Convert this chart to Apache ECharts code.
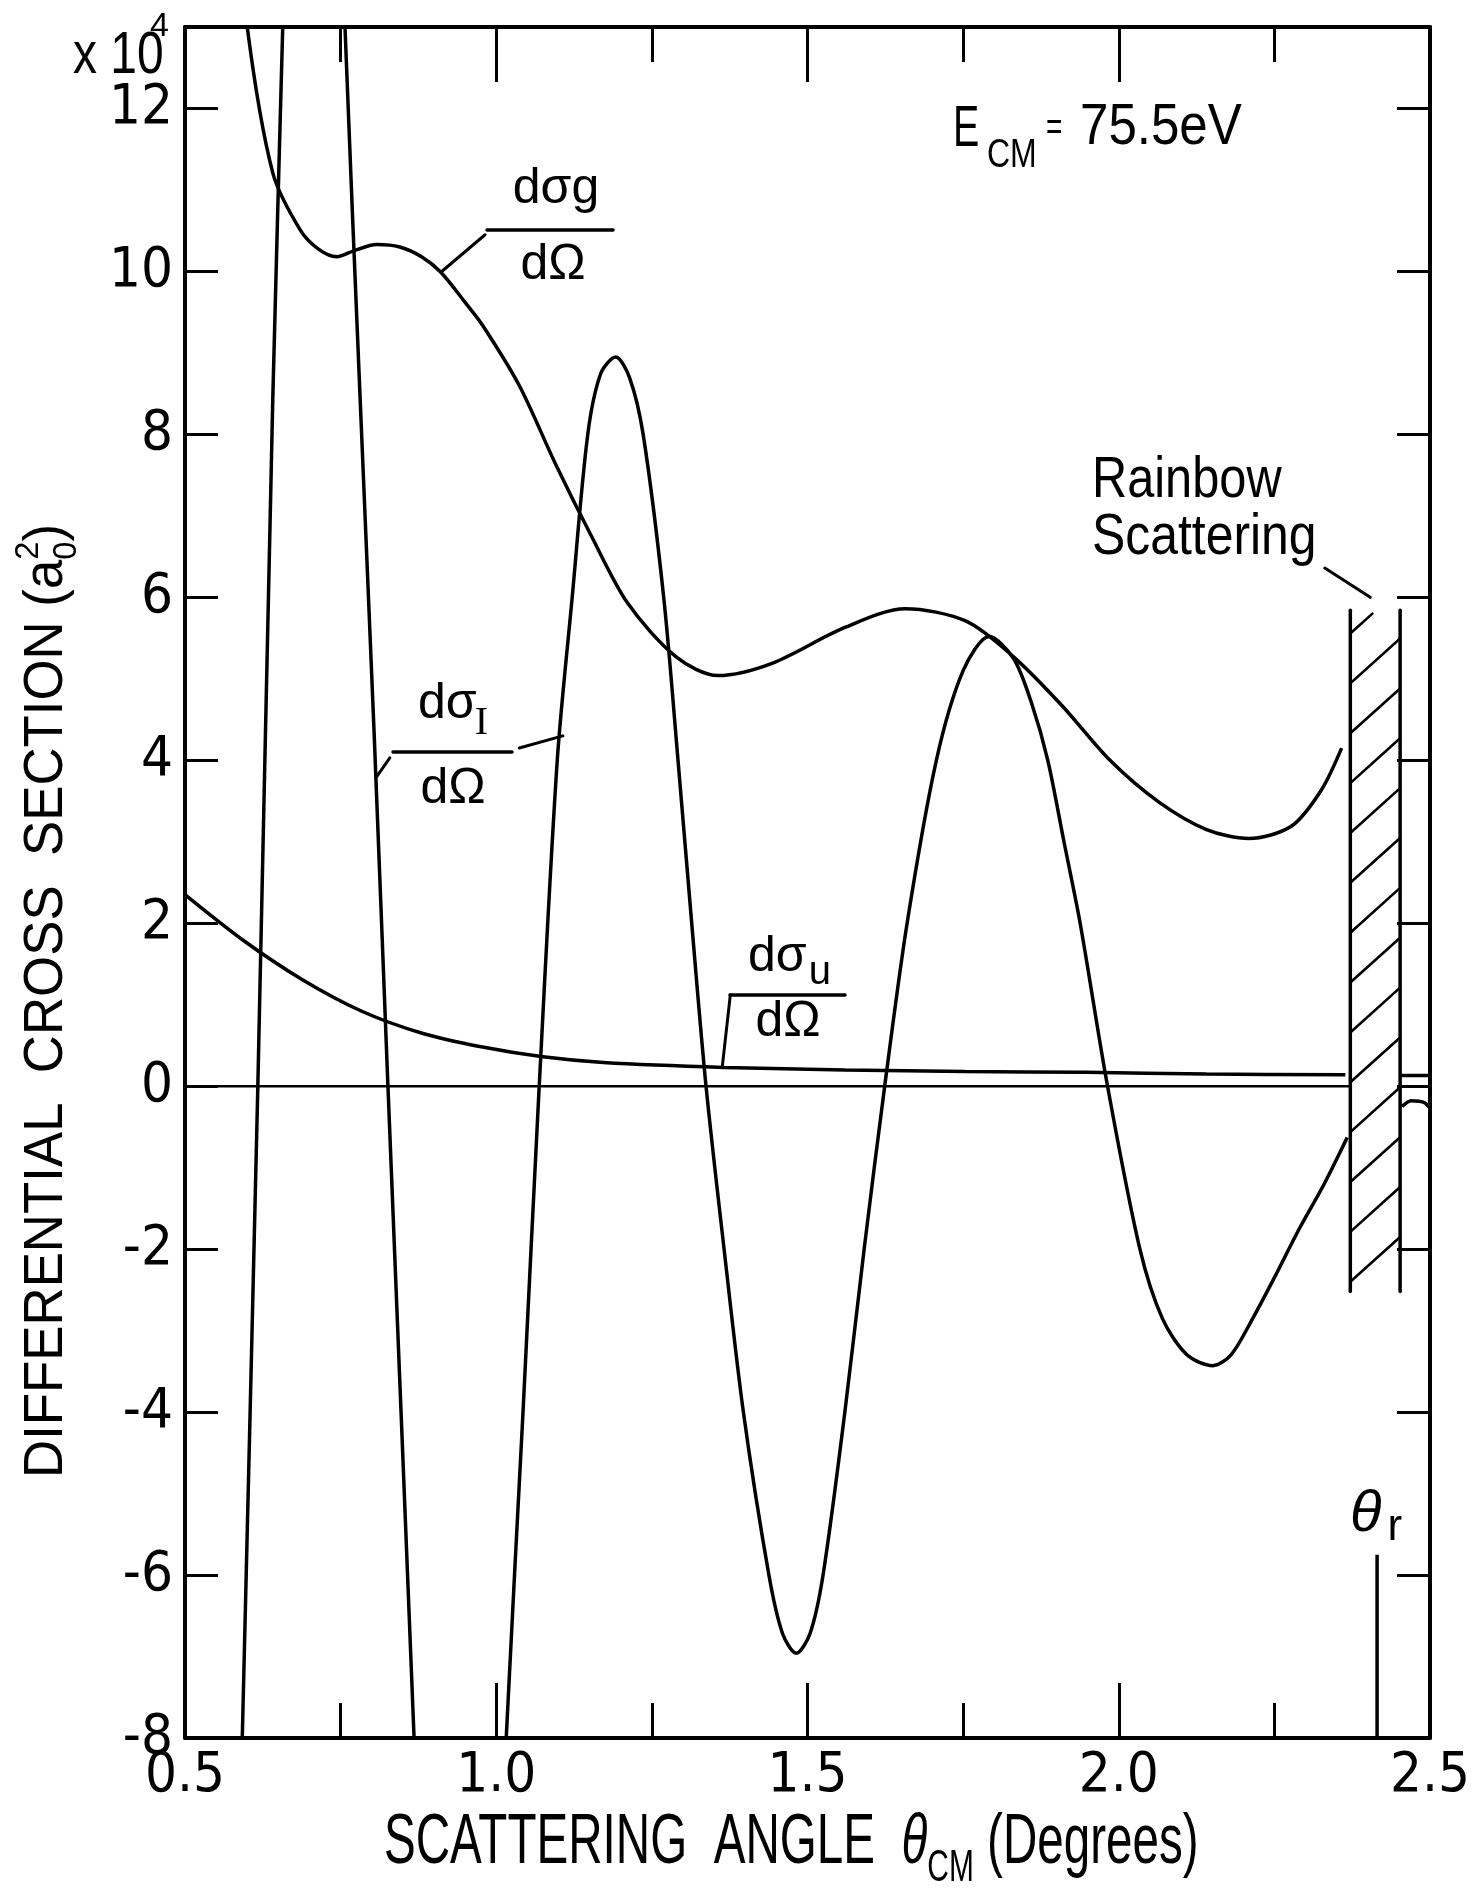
<!DOCTYPE html>
<html>
<head>
<meta charset="utf-8">
<script src="https://cdn.jsdelivr.net/npm/echarts@6/dist/echarts.min.js"></script>
<style>
  html, body { margin: 0; padding: 0; background: #fff; }
  #chart { width: 1483px; height: 1892px; }
</style>
</head>
<body>
<div id="chart"></div>
<script>
// Differential cross sections vs. CM scattering angle, E_CM = 75.5 eV.
// Angles in degrees, cross sections in units of 1e4 a0^2.

const xTickLabels = ['0.5', '1.0', '1.5', '2.0', '2.5'];
const yTickLabels = ['-8', '-6', '-4', '-2', '0', '2', '4', '6', '8', '10', '12'];

// d(sigma_g)/dOmega
const sigmaG = [
  [0.597, 13.6], [0.600, 13.0], [0.641, 11.21], [0.685, 10.51], [0.715, 10.27],
  [0.744, 10.18], [0.770, 10.25], [0.808, 10.33], [0.845, 10.30], [0.880, 10.18],
  [0.911, 9.99], [0.950, 9.62], [0.978, 9.34], [1.037, 8.60], [1.095, 7.64],
  [1.153, 6.75], [1.211, 5.93], [1.289, 5.27], [1.356, 5.04], [1.443, 5.19],
  [1.560, 5.63], [1.657, 5.86], [1.754, 5.71], [1.831, 5.27], [1.909, 4.67],
  [1.986, 4.00], [2.064, 3.49], [2.141, 3.15], [2.209, 3.04], [2.277, 3.19],
  [2.325, 3.63], [2.358, 4.15]
];

// d(sigma_I)/dOmega (interference term); null marks where the curve leaves the frame
const sigmaI = [
  [0.589, -9.0], [0.592, -8.0], [0.617, 0.0], [0.641, 8.43], [0.657, 13.0], [0.659, 13.8],
  null,
  [0.755, 13.8], [0.757, 13.0], [0.781, 8.5], [0.804, 4.3], [0.826, 0.0],
  [0.868, -8.0], [0.870, -8.6],
  null,
  [1.013, -8.8], [1.016, -8.0], [1.043, -4.0], [1.069, 0.0], [1.098, 4.0], [1.122, 6.0],
  [1.147, 8.0], [1.168, 8.75], [1.192, 8.95], [1.214, 8.70], [1.236, 8.0], [1.269, 6.0],
  [1.292, 4.0], [1.314, 2.0], [1.337, 0.0], [1.366, -2.0], [1.397, -4.0], [1.438, -6.0],
  [1.460, -6.72], [1.482, -6.96], [1.504, -6.72], [1.525, -6.0], [1.560, -4.0],
  [1.591, -2.0], [1.624, 0.0], [1.660, 2.0], [1.707, 4.0], [1.750, 5.10], [1.792, 5.52],
  [1.831, 5.25], [1.860, 4.70], [1.886, 4.0], [1.912, 3.0], [1.938, 2.0], [1.982, 0.0],
  [2.034, -2.0], [2.070, -2.85], [2.110, -3.30], [2.151, -3.43], [2.180, -3.30],
  [2.211, -2.91], [2.250, -2.35], [2.290, -1.75], [2.330, -1.20], [2.367, -0.63],
  null,
  [2.455, -0.25], [2.470, -0.18], [2.490, -0.20], [2.500, -0.27]
];

// d(sigma_u)/dOmega
const sigmaU = [
  [0.500, 2.35], [0.590, 1.81], [0.688, 1.31], [0.784, 0.92], [0.881, 0.65],
  [0.978, 0.48], [1.075, 0.36], [1.172, 0.29], [1.366, 0.23], [1.560, 0.20],
  [1.753, 0.18], [1.947, 0.17], [2.141, 0.15], [2.364, 0.14],
  null,
  [2.452, 0.13], [2.500, 0.13]
];

// zero reference line, interrupted by the rainbow band
const zeroLine = [[0.5, 0], [2.372, 0], null, [2.452, 0], [2.5, 0]];

// rainbow scattering band: angle from, angle to, cross section from, to
const rainbowBand = [2.372, 2.452, -2.52, 5.84];

// rainbow angle marker
const rainbowAngle = [[2.415, -5.75], [2.415, -8.0]];

const SANS = "'Liberation Sans', Arial, sans-serif";
const NARROW = "'Liberation Sans Narrow', 'DejaVu Sans Condensed', 'Liberation Sans', sans-serif";
const SERIF = "'Liberation Serif', 'DejaVu Serif', serif";
const MID = {};
MID[SANS] = 0.3465; MID[NARROW] = 0.3465; MID[SERIF] = 0.3375;

const INK = '#000';
const chart = echarts.init(document.getElementById('chart'), null, { renderer: 'canvas' });

const curveStyle = { color: INK, width: 3.5 };

function frameAxis(position, withLabels, isX) {
  const base = {
    type: 'value',
    position: position,
    axisLine: { show: true, onZero: false, lineStyle: { color: INK, width: 4 } },
    splitLine: { show: false },
    minorSplitLine: { show: false }
  };
  if (isX) {
    Object.assign(base, {
      min: 0.5, max: 2.5, interval: 0.5,
      axisTick: { show: true, inside: true, length: 55, lineStyle: { color: INK, width: 3 } },
      minorTick: { show: true, splitNumber: 2, length: 35, lineStyle: { color: INK, width: 3 } },
      axisLabel: withLabels ? {
        show: true, color: INK, fontSize: 56, fontFamily: NARROW, margin: 10,
        formatter: v => xTickLabels[Math.round((v - 0.5) / 0.5)] || ''
      } : { show: false }
    });
  } else {
    Object.assign(base, {
      min: -8, max: 13, interval: 2,
      axisTick: { show: true, inside: true, length: 33, lineStyle: { color: INK, width: 3 } },
      axisLabel: withLabels ? {
        show: true, color: INK, fontSize: 56, fontFamily: NARROW, margin: 12,
        showMaxLabel: false,
        formatter: v => {
          const i = Math.round((v + 8) / 2);
          return (Math.abs(v + 8 - 2 * i) < 1e-6 && yTickLabels[i] !== undefined) ? yTickLabels[i] : '';
        }
      } : { show: false }
    });
  }
  return base;
}

const option = {
  backgroundColor: '#fff',
  animation: false,
  grid: { left: 185, right: 53, top: 27, bottom: 154, outerBoundsMode: 'none', containLabel: false },
  xAxis: [frameAxis('bottom', true, true), frameAxis('top', false, true)],
  yAxis: [frameAxis('left', true, false), frameAxis('right', false, false)],
  series: [
    { name: 'dsigma_g', type: 'line', data: sigmaG, smooth: 0.3, showSymbol: false,
      lineStyle: curveStyle, connectNulls: false, clip: true },
    { name: 'dsigma_I', type: 'line', data: sigmaI, smooth: 0.3, showSymbol: false,
      lineStyle: curveStyle, connectNulls: false, clip: true },
    { name: 'dsigma_u', type: 'line', data: sigmaU, smooth: 0.3, showSymbol: false,
      lineStyle: curveStyle, connectNulls: false, clip: true },
    { name: 'zero', type: 'line', data: zeroLine, showSymbol: false,
      lineStyle: { color: INK, width: 2.5 }, connectNulls: false },
    { name: 'theta_r', type: 'line', data: rainbowAngle, showSymbol: false,
      lineStyle: { color: INK, width: 3.5 } },
    {
      name: 'rainbow', type: 'custom', data: [rainbowBand],
      encode: { x: [0, 1], y: [2, 3] },
      renderItem: function (params, api) {
        const x0 = api.value(0), x1 = api.value(1), y0 = api.value(2), y1 = api.value(3);
        const line = (a, b, w) => ({
          type: 'line', shape: { x1: a[0], y1: a[1], x2: b[0], y2: b[1] },
          style: { stroke: INK, lineWidth: w, lineCap: 'round' }
        });
        const kids = [
          line(api.coord([x0, y0]), api.coord([x0, y1]), 3.5),
          line(api.coord([x1, y0]), api.coord([x1, y1]), 3.5)
        ];
        // diagonal hatching across the band
        const step = 0.612, rise = 0.55, top = y1 - 0.04;
        for (let y = y0 + 0.12; y < top; y += step) {
          let frac = 1, yr = y + rise;
          if (yr > top) { frac = (top - y) / rise; yr = top; }
          kids.push(line(api.coord([x0, y]), api.coord([x0 + (x1 - x0) * frac, yr]), 2.6));
        }
        return { type: 'group', children: kids };
      }
    }
  ]
};

chart.setOption(option);

// ---- lettering helpers ----
const mctx = document.createElement('canvas').getContext('2d');
function textWidth(str, size, family, style) {
  mctx.font = (style || 'normal') + ' ' + size + 'px ' + family;
  return mctx.measureText(str).width;
}
// pieces share one baseline at the group origin; dy shifts a piece down (subscript) or up
function lettering(x, y, pieces, opt) {
  opt = opt || {};
  let cx = 0;
  const kids = [];
  for (const p of pieces) {
    const fam = p.family || SANS, size = p.size, st = p.style || 'normal';
    const px = cx + (p.dx || 0);
    kids.push({
      type: 'text', x: px, y: (p.dy || 0) - MID[fam] * size, silent: true,
      style: { text: p.t, fontSize: size, fontFamily: fam, fontStyle: st, fill: INK,
               align: 'left', verticalAlign: 'middle' }
    });
    if (p.advance !== false) cx = px + textWidth(p.t, size, fam, st);
  }
  if (opt.center) kids.forEach(k => { k.x -= cx / 2; });
  return { type: 'group', x: x, y: y, scaleX: opt.scaleX || 1, rotation: opt.rotation || 0,
           silent: true, children: kids };
}
function seg(a, b, w) {
  return { type: 'line', silent: true, shape: { x1: a[0], y1: a[1], x2: b[0], y2: b[1] },
           style: { stroke: INK, lineWidth: w || 3, lineCap: 'round' } };
}
const px = p => chart.convertToPixel({ gridIndex: 0 }, p);

const graphics = [
  // axis multiplier
  lettering(73, 77, [{ t: 'x 10', size: 60 }], { scaleX: 0.8 }),
  lettering(150, 38, [{ t: '4', size: 34 }]),

  // energy
  lettering(953, 150, [{ t: 'E', size: 58 }], { scaleX: 0.68 }),
  lettering(987, 170, [{ t: 'CM', size: 40 }], { scaleX: 0.8 }),
  lettering(1046, 143, [{ t: '=', size: 40 }], { scaleX: 0.7 }),
  lettering(1080, 148, [{ t: '75.5eV', size: 58 }], { scaleX: 0.88 }),

  // d sigma_g / d Omega
  lettering(556, 207, [{ t: 'dσg', size: 50 }], { center: true }),
  seg([487, 230], [613, 230], 3.5),
  lettering(553, 283, [{ t: 'dΩ', size: 50 }], { center: true }),

  // d sigma_I / d Omega
  lettering(418, 722, [{ t: 'dσ', size: 50 }, { t: 'I', size: 40, family: SERIF, dy: 15, dx: -2 }]),
  seg([393, 752], [512, 752], 3.5),
  lettering(453, 807, [{ t: 'dΩ', size: 50 }], { center: true }),

  // d sigma_u / d Omega
  lettering(748, 975, [{ t: 'dσ', size: 50 }, { t: 'u', size: 40, dy: 12, dx: 2 }]),
  seg([730, 995], [845, 995], 3.5),
  lettering(788, 1040, [{ t: 'dΩ', size: 50 }], { center: true }),

  // rainbow scattering
  lettering(1092, 501, [{ t: 'Rainbow', size: 58 }], { scaleX: 0.84 }),
  lettering(1092, 558, [{ t: 'Scattering', size: 58 }], { scaleX: 0.86 }),

  // rainbow angle
  lettering(1350, 1535, [{ t: 'θ', size: 58, style: 'italic' }, { t: 'r', size: 44, dy: 8, dx: 6 }]),

  // axis titles
  lettering(384, 1868, [
    { t: 'SCATTERING  ANGLE  ', size: 70 },
    { t: 'θ', size: 70, style: 'italic' },
    { t: 'CM', size: 44, dy: 16 },
    { t: ' (Degrees)', size: 70 }
  ], { scaleX: 0.68 }),
  lettering(66, 1478, [
    { t: 'DIFFERENTIAL  CROSS  SECTION (', size: 55 },
    { t: 'a', size: 55 },
    { t: '0', size: 34, dy: 12, advance: false },
    { t: '2', size: 34, dy: -26 },
    { t: ')', size: 55 }
  ], { scaleX: 0.96, rotation: Math.PI / 2 }),

  // leader lines from labels to curves
  seg(px([0.911, 9.99]), px([0.982, 10.45]), 3),
  seg(px([0.829, 4.03]), px([0.808, 3.80]), 3),
  seg(px([1.037, 4.15]), px([1.107, 4.30]), 3),
  seg(px([1.376, 1.12]), px([1.363, 0.23]), 3),
  seg(px([2.331, 6.36]), px([2.404, 6.00]), 3)
];

chart.setOption({ graphic: graphics });
</script>
</body>
</html>
